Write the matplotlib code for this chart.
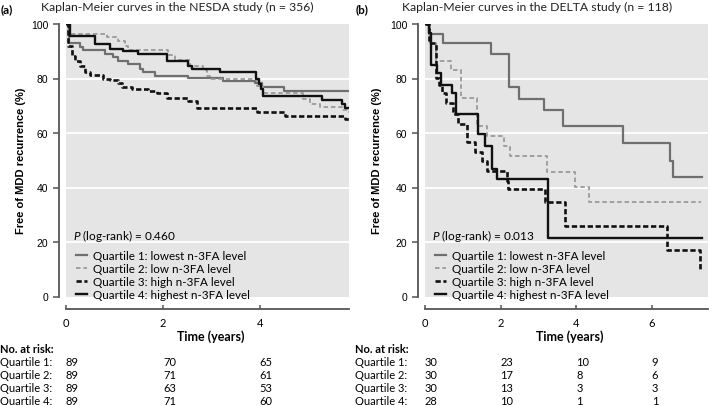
# coding: utf-8

"""
Kaplan-Meier curves, NESDA and DELTA, by n-3FA quartile
"""

import matplotlib
matplotlib.use("Agg")
import matplotlib.pyplot as plt
import matplotlib.transforms as mtransforms

plt.rcParams['font.family'] = ['Lato', 'DejaVu Sans']
plt.rcParams['mathtext.fontset'] = 'custom'
plt.rcParams['mathtext.it'] = 'Lato:italic'
plt.rcParams['mathtext.rm'] = 'Lato'

# ---------- data ----------
labels = ["Quartile 1: lowest n-3FA level", "Quartile 2: low n-3FA level",
          "Quartile 3: high n-3FA level", "Quartile 4: highest n-3FA level"]

# NESDA (a)
a_t1 = [0, 0.06, 0.29, 0.35, 0.8, 0.97, 1.07, 1.28, 1.53, 1.59, 1.84, 2.52, 3.24, 3.9, 4.04, 4.5, 5.84]
a_s1 = [100, 93, 91.4, 90.6, 89, 88, 86.5, 85.3, 83.5, 82.4, 81, 80.2, 79.2, 78.5, 76.7, 75.4, 75.4]
a_t2 = [0, 0.04, 0.1, 0.85, 1.07, 1.22, 1.28, 2.1, 2.25, 2.56, 2.82, 2.9, 2.97, 3.94, 4.06, 4.89, 5.03, 5.24, 5.69, 5.79, 5.84]
a_s2 = [100, 97.5, 96.3, 95.1, 93.9, 92, 90.3, 88.5, 86.8, 84.7, 83, 81, 79.8, 77.4, 74.7, 72.5, 70.6, 69.4, 68.6, 67.8, 67.8]
a_t3 = [0, 0.04, 0.12, 0.19, 0.29, 0.39, 0.49, 0.76, 0.91, 1.07, 1.15, 1.36, 1.69, 1.88, 2.08, 2.52, 2.7, 3.94, 4.52, 5.75, 5.84]
a_s3 = [100, 92, 88.4, 86.5, 84.7, 82.4, 81.3, 80, 79.4, 78.2, 77, 76.1, 75.5, 74.7, 72.9, 71.9, 69.2, 67.6, 66.2, 65.1, 65.1]
a_t4 = [0, 0.08, 0.6, 0.9, 1.18, 1.49, 2.08, 2.52, 2.6, 3.18, 3.92, 3.98, 4.02, 4.06, 5.28, 5.69, 5.75, 5.84]
a_s4 = [100, 95.5, 92.6, 91, 90, 89, 86.4, 84.5, 83.5, 82.4, 79.8, 78, 76.1, 73.7, 72.1, 70.6, 69.2, 69.2]
a_p = "0.460"
a_years = [0, 2, 4]
a_risk = [[89, 70, 65], [89, 71, 61], [89, 63, 53], [89, 71, 60]]

# DELTA (b)
b_t1 = [0, 0.11, 0.48, 1.75, 2.23, 2.5, 3.15, 3.66, 5.25, 6.49, 6.57, 7.34]
b_s1 = [100, 96.5, 93, 89, 76.8, 72.5, 68.6, 62.5, 56.3, 49.6, 43.7, 43.7]
b_t2 = [0, 0.13, 0.29, 0.7, 0.95, 1.37, 1.64, 2.08, 2.25, 3.23, 3.97, 4.33, 7.3]
b_s2 = [100, 93, 86.6, 83.1, 72.9, 62.5, 59, 55.3, 51.7, 45.7, 40.2, 34.5, 34.5]
b_t3 = [0, 0.1, 0.28, 0.37, 0.46, 0.55, 0.74, 0.87, 1.1, 1.32, 1.5, 1.63, 2.16, 2.2, 3.18, 3.71, 6.4, 7.28, 7.28]
b_s3 = [100, 93, 80.2, 77.7, 74.7, 71, 67, 63.3, 56.6, 53.1, 49.8, 46.2, 42.5, 39.3, 34.6, 26, 17.2, 9.7, 9.7]
b_t4 = [0, 0.11, 0.15, 0.33, 0.42, 0.72, 0.81, 1.41, 1.59, 1.77, 1.9, 3.25, 7.33]
b_s4 = [100, 96.7, 85, 82, 77.7, 74.7, 66.8, 59.6, 55.3, 46.8, 43, 21.5, 21.5]
b_p = "0.013"
b_years = [0, 2, 4, 6]
b_risk = [[30, 23, 10, 9], [30, 17, 8, 6], [30, 13, 3, 3], [28, 10, 1, 1]]

# ---------- style ----------
styles = [dict(color="#6f6f6f", lw=1.6, ls="-"),
          dict(color="#9a9a9a", lw=1.3, ls=(0, (2.5, 1.6))),
          dict(color="#111111", lw=1.9, ls=(0, (2.0, 1.0))),
          dict(color="#111111", lw=1.7, ls="-")]

W, H = 709, 406
fig = plt.figure(figsize=(W / 100, H / 100), dpi=100)


def fy(py):
    return 1 - py / H


def panel(left, right, xmax, curves, pval, years, risk, tag, title, ylab_x):
    ax = fig.add_axes([left / W, fy(297.5), (right - left) / W, (297.5 - 25) / H])
    ax.set_facecolor("#e5e5e5")
    for (t, s), st in zip(curves, styles):
        ax.step(t, s, where="post", **st)
    ax.set_xlim(0, xmax)
    ax.set_ylim(0, 100)
    ax.set_yticks([0, 20, 40, 60, 80, 100])
    ax.set_xticks(years)
    for y in [20, 40, 60, 80]:
        ax.axhline(y, color="white", lw=1.3, zorder=0.5)
    for k in ["top", "right"]:
        ax.spines[k].set_visible(False)
    ax.spines["left"].set_position(("outward", 5))
    ax.spines["bottom"].set_position(("outward", 9))
    for k in ["left", "bottom"]:
        ax.spines[k].set_color("#555555")
        ax.spines[k].set_linewidth(1.3)
    ax.tick_params(axis="y", direction="out", length=4.3, width=1.1, color="#555555",
                   labelsize=7.5, pad=3.5)
    ax.tick_params(axis="x", direction="in", length=3, width=1.1, color="#555555",
                   labelsize=8, pad=6)
    for lb in ax.get_yticklabels():
        lb.set_family("Liberation Sans")

    ax.set_ylabel("Free of MDD recurrence (%)", fontsize=8, fontweight="bold",
                  family="Liberation Sans")
    ax.yaxis.set_label_coords(ylab_x, 0.5)
    ax.set_xlabel("Time (years)", fontsize=9, fontweight="bold")
    ax.xaxis.set_label_coords(0.51, -0.122)

    ax.text(0.024, 0.227, "$P$ (log-rank) = " + pval, transform=ax.transAxes,
            fontsize=8.5, va="center", ha="left")
    ax.legend(labels, loc="lower left", bbox_to_anchor=(0.035, -0.012), frameon=False,
              fontsize=8.4, handlelength=0.95, handletextpad=0.5, labelspacing=0.16,
              borderpad=0, borderaxespad=0)

    x0 = 0 if tag == "(a)" else 355
    fig.text((x0 + 1) / W, fy(10), tag, fontsize=8.5, fontweight="bold", va="center")
    fig.text((41 if tag == "(a)" else 401.7) / W, fy(7.5), title, fontsize=8.8,
             va="center", color="#222222")

    # number at risk table
    tr = mtransforms.blended_transform_factory(ax.transData, fig.transFigure)
    fig.text(x0 / W, fy(350), "No. at risk:", fontsize=8, fontweight="bold", va="center")
    rows = [362.7, 375.5, 388.5, 401.3]
    for i, py in enumerate(rows):
        fig.text(x0 / W, fy(py), "Quartile %d:" % (i + 1), fontsize=8, va="center")
        for yr, n in zip(years, risk[i]):
            ax.text(yr, fy(py), str(n), transform=tr, fontsize=8, va="center", ha="left")
    return ax


panel(66, 349, 5.84, [(a_t1, a_s1), (a_t2, a_s2), (a_t3, a_s3), (a_t4, a_s4)],
      a_p, a_years, a_risk, "(a)", "Kaplan-Meier curves in the NESDA study (n = 356)", -0.14)
panel(425, 708.3, 7.5, [(b_t1, b_s1), (b_t2, b_s2), (b_t3, b_s3), (b_t4, b_s4)],
      b_p, b_years, b_risk, "(b)", "Kaplan-Meier curves in the DELTA study (n = 118)", -0.153)

fig.savefig("out.png", dpi=100)
